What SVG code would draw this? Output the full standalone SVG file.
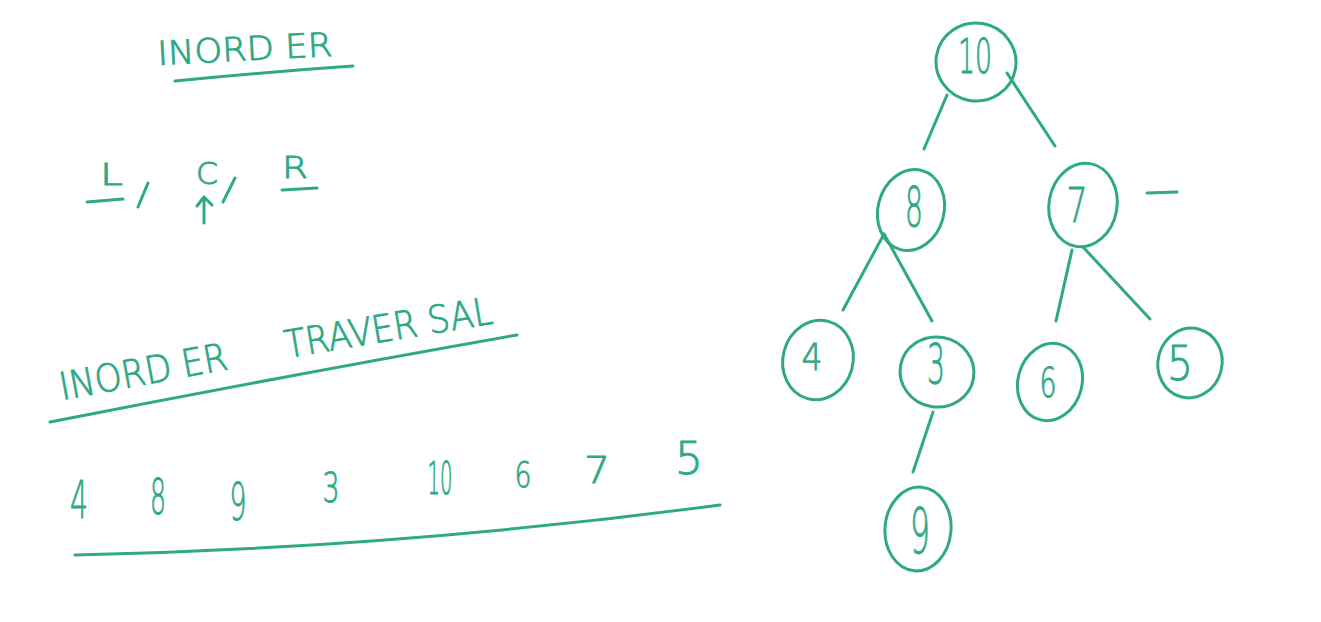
<svg xmlns="http://www.w3.org/2000/svg" width="1321" height="622" viewBox="0 0 1321 622">
<style>
.ink{fill:none;stroke:#2ea886;stroke-width:3;stroke-linecap:round;stroke-linejoin:round}
.t{fill:#2ea886;stroke:#2ea886;stroke-width:0.9;font-family:"DejaVu Sans","Liberation Sans",sans-serif;font-weight:200}
.c{text-anchor:middle}
</style>
<rect width="1321" height="622" fill="#ffffff"/>
<g id="notes">
<text class="t" transform="translate(158,65) rotate(-3)" font-size="33" textLength="175" lengthAdjust="spacingAndGlyphs">INORD ER</text>
<path class="ink" d="M175,81 Q265,72 353,66"/>
<text class="t" x="100" y="185" font-size="30" textLength="23" lengthAdjust="spacingAndGlyphs">L</text>
<path class="ink" d="M87,202 L123,199"/>
<path class="ink" d="M138,207 L148,183"/>
<text class="t" x="196" y="184" font-size="30" textLength="22" lengthAdjust="spacingAndGlyphs">C</text>
<path class="ink" d="M223,202 L235,178"/>
<path class="ink" d="M204,223 L204,197 M197,206 L204,197 L212,205"/>
<text class="t" x="282" y="178" font-size="30" textLength="26" lengthAdjust="spacingAndGlyphs">R</text>
<path class="ink" d="M282,190 L317,188"/>
<text class="t" transform="translate(62,400) rotate(-10.5)" font-size="38" textLength="170" lengthAdjust="spacingAndGlyphs">INORD ER</text>
<text class="t" transform="translate(287,358) rotate(-9.5)" font-size="38" textLength="210" lengthAdjust="spacingAndGlyphs">TRAVER SAL</text>
<path class="ink" d="M50,422 Q290,375 517,335"/>
<g id="sequence">
<text class="t c" x="79" y="518" font-size="52" textLength="18" lengthAdjust="spacingAndGlyphs">4</text>
<text class="t c" x="158" y="514" font-size="50" textLength="16" lengthAdjust="spacingAndGlyphs">8</text>
<text class="t c" x="238" y="520" font-size="52" textLength="17" lengthAdjust="spacingAndGlyphs">9</text>
<text class="t c" x="331" y="502" font-size="40" textLength="17" lengthAdjust="spacingAndGlyphs">3</text>
<text class="t c" x="440" y="494" font-size="44" textLength="25" lengthAdjust="spacingAndGlyphs">10</text>
<text class="t c" x="523" y="487" font-size="36" textLength="17" lengthAdjust="spacingAndGlyphs">6</text>
<text class="t c" x="597" y="483" font-size="38" textLength="26" lengthAdjust="spacingAndGlyphs">7</text>
<text class="t c" x="689" y="474" font-size="45" textLength="28" lengthAdjust="spacingAndGlyphs">5</text>
</g>
<path class="ink" d="M75,555 Q397,548 720,505"/>
<path class="ink" d="M1147,193 L1177,192"/>
</g>
<g id="connectors">
<path class="ink" d="M947,95 L924,149"/>
<path class="ink" d="M1007,73 L1055,146"/>
<path class="ink" d="M884,234 L843,310"/>
<path class="ink" d="M884,234 L932,321"/>
<path class="ink" d="M1072,250 L1056,321"/>
<path class="ink" d="M1083,247 L1150,319"/>
<path class="ink" d="M933,412 L913,472"/>
</g>
<g id="node-10">
<ellipse class="ink" cx="976" cy="62" rx="40" ry="39" transform="rotate(10 976 62)"/>
<text class="t c" x="975" y="73" font-size="48" textLength="34" lengthAdjust="spacingAndGlyphs">10</text>
</g>
<g id="node-8">
<ellipse class="ink" cx="911" cy="210" rx="33" ry="41" transform="rotate(15 911 210)"/>
<text class="t c" x="914" y="226" font-size="56" textLength="18" lengthAdjust="spacingAndGlyphs">8</text>
</g>
<g id="node-7">
<ellipse class="ink" cx="1083" cy="205" rx="34" ry="42" transform="rotate(10 1083 205)"/>
<text class="t c" x="1077" y="222" font-size="48" textLength="21" lengthAdjust="spacingAndGlyphs">7</text>
</g>
<g id="node-4">
<ellipse class="ink" cx="818" cy="360" rx="35" ry="40" transform="rotate(15 818 360)"/>
<text class="t c" x="812" y="370" font-size="37" textLength="21" lengthAdjust="spacingAndGlyphs">4</text>
</g>
<g id="node-3">
<ellipse class="ink" cx="937" cy="372" rx="37" ry="35" transform="rotate(10 937 372)"/>
<text class="t c" x="936" y="383" font-size="55" textLength="18" lengthAdjust="spacingAndGlyphs">3</text>
</g>
<g id="node-6">
<ellipse class="ink" cx="1050" cy="382" rx="32" ry="39" transform="rotate(15 1050 382)"/>
<text class="t c" x="1048" y="397" font-size="40" textLength="17" lengthAdjust="spacingAndGlyphs">6</text>
</g>
<g id="node-5">
<ellipse class="ink" cx="1190" cy="363" rx="32" ry="35" transform="rotate(15 1190 363)"/>
<text class="t c" x="1180" y="380" font-size="48" textLength="26" lengthAdjust="spacingAndGlyphs">5</text>
</g>
<g id="node-9">
<ellipse class="ink" cx="918" cy="529" rx="33" ry="42" transform="rotate(5 918 529)"/>
<text class="t c" x="920" y="553" font-size="62" textLength="20" lengthAdjust="spacingAndGlyphs">9</text>
</g>
</svg>
